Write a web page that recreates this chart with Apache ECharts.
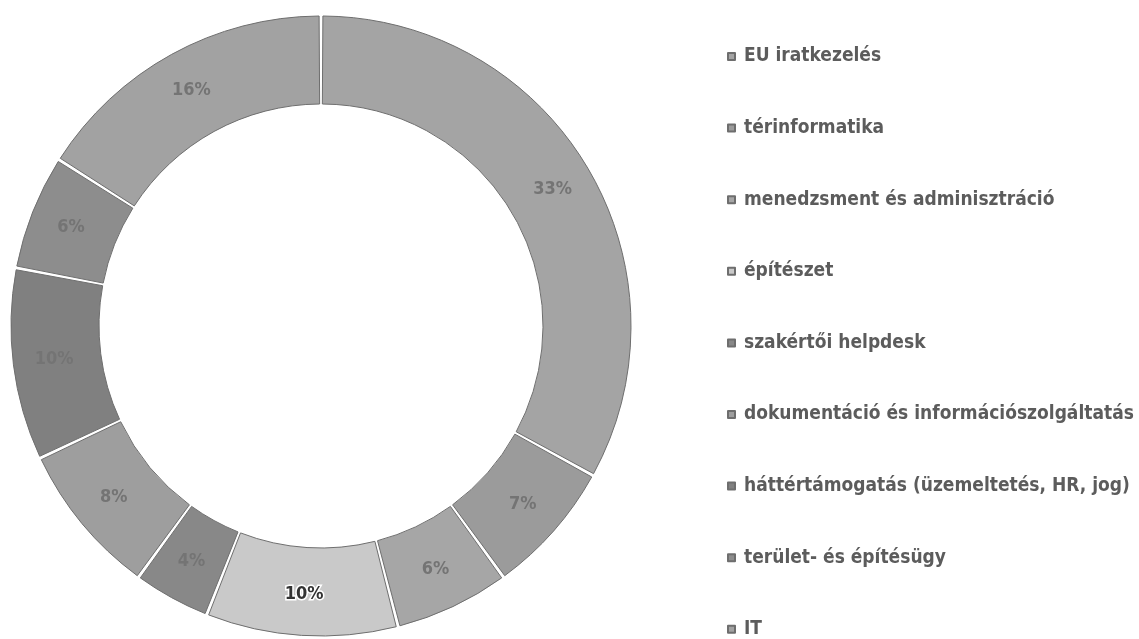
<!DOCTYPE html>
<html>
<head>
<meta charset="utf-8">
<script src="https://cdn.jsdelivr.net/npm/echarts@6/dist/echarts.min.js"></script>
<style>
  html, body { margin: 0; padding: 0; background: #fff; }
  #chart { width: 1139px; height: 639px; }
</style>
</head>
<body>
<div id="chart"></div>
<script>
// kategóriák (óramutató járásával, felülről)
var categories = [
    'EU iratkezelés',
    'térinformatika',
    'menedzsment és adminisztráció',
    'építészet',
    'szakértői helpdesk',
    'dokumentáció és információszolgáltatás',
    'háttértámogatás (üzemeltetés, HR, jog)',
    'terület- és építésügy',
    'IT'
];
var shares = [33, 7, 6, 10, 4, 8, 10, 6, 16];
// szkennelt, szürke árnyalatok
var colors = ['#a4a4a4', '#9b9b9b', '#a6a6a6', '#c9c9c9', '#888888', '#9e9e9e', '#808080', '#8d8d8d', '#a2a2a2'];

var data = categories.map(function (name, i) {
    var item = {name: name, value: shares[i], itemStyle: {color: colors[i]}};
    if (i === 3) {
        item.label = {color: '#333', textBorderColor: '#fff', textBorderWidth: 3};
    }
    return item;
});

var myChart = echarts.init(document.getElementById('chart'));
myChart.setOption({
    animation: false,
    legend: {
        orient: 'vertical',
        left: 727,
        top: 47,
        height: 592,
        padding: 0,
        icon: 'rect',
        itemWidth: 7,
        itemHeight: 7,
        itemGap: 52.6,
        textStyle: {
            fontFamily: 'DejaVu Sans Condensed',
            fontSize: 19,
            fontWeight: 'bold',
            color: '#5c5c5c',
            padding: [0, 0, 0, 4]
        },
        data: categories
    },
    series: [
        {
            type: 'pie',
            center: [321, 326],
            radius: [222, 310],
            startAngle: 90,
            clockwise: true,
            padAngle: 0.7,
            avoidLabelOverlap: false,
            itemStyle: {
                borderColor: '#6e6e6e',
                borderWidth: 1
            },
            label: {
                position: 'inside',
                formatter: '{c}%',
                fontFamily: 'DejaVu Sans Condensed',
                fontSize: 18,
                fontWeight: 'bold',
                color: '#747474'
            },
            labelLine: {show: false},
            emphasis: {disabled: true},
            data: data
        }
    ]
});
</script>
</body>
</html>
